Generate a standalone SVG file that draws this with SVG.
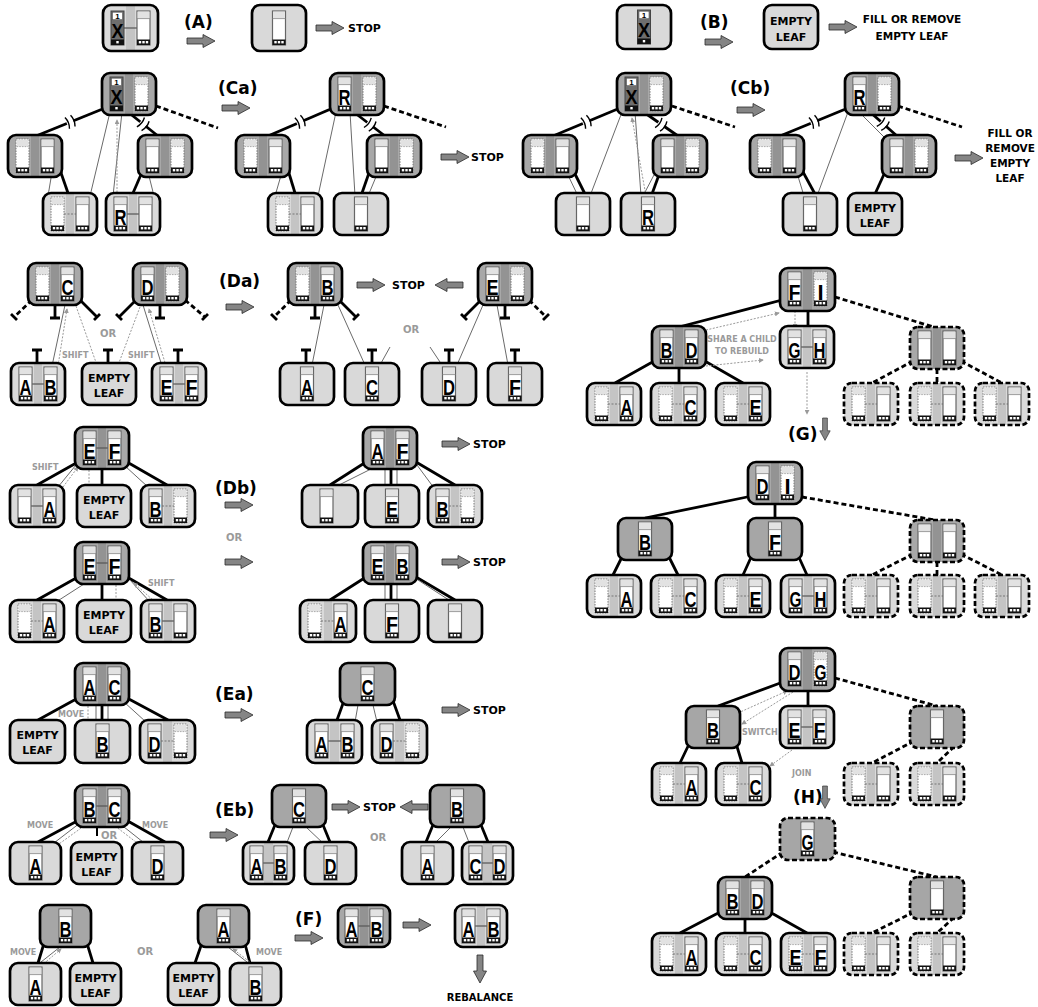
<svg xmlns="http://www.w3.org/2000/svg" xmlns:xlink="http://www.w3.org/1999/xlink" width="1038" height="1007" viewBox="0 0 1038 1007">
<style>
.n{stroke:#000;stroke-width:2.7}
.ni{fill:#a6a6a6}
.ni2{fill:url(#gi)}
.nl{fill:#d9d9d9}
.nl2{fill:url(#gl)}
.dn{stroke-dasharray:5 2.5}
.c{stroke:#555;stroke-width:1.2}
.cd{stroke:#777;stroke-width:1;stroke-dasharray:2 1.5}
.k{font-family:"Liberation Sans",Arial,sans-serif;font-weight:bold;font-size:22px;text-anchor:middle;fill:#000}
.el{font-family:"DejaVu Sans",sans-serif;font-weight:bold;font-size:11px;text-anchor:middle}
.lb{font-family:"DejaVu Sans",sans-serif;font-weight:bold;font-size:17px}
.st{font-family:"DejaVu Sans",sans-serif;font-weight:bold;font-size:11px}
.stc{font-family:"DejaVu Sans",sans-serif;font-weight:bold;font-size:10.5px;text-anchor:middle}
.gr{font-family:"DejaVu Sans",sans-serif;font-weight:bold;font-size:8px;fill:#9a9a9a}
.grc{font-family:"DejaVu Sans",sans-serif;font-weight:bold;font-size:8px;fill:#9a9a9a;text-anchor:middle}
.or{font-family:"DejaVu Sans",sans-serif;font-weight:bold;font-size:10px;fill:#9a9a9a}
.e{stroke:#000;stroke-width:2.8;fill:none}
.ed{stroke-dasharray:5 3}
.p{stroke:#6a6a6a;stroke-width:1;fill:none}
.da{stroke:#999;stroke-width:1;stroke-dasharray:2 1.5;fill:none;marker-end:url(#ah)}
.arr{fill:#858585;stroke:#2a2a2a;stroke-width:0.8}
</style>
<defs>
<linearGradient id="gi" x1="0" y1="0" x2="1" y2="0">
<stop offset="0" stop-color="#a8a8a8"/><stop offset="0.42" stop-color="#a8a8a8"/><stop offset="0.42" stop-color="#939393"/><stop offset="0.58" stop-color="#939393"/><stop offset="0.58" stop-color="#a8a8a8"/><stop offset="1" stop-color="#a8a8a8"/>
</linearGradient>
<linearGradient id="gl" x1="0" y1="0" x2="1" y2="0">
<stop offset="0" stop-color="#dadada"/><stop offset="0.42" stop-color="#dadada"/><stop offset="0.42" stop-color="#c4c4c4"/><stop offset="0.58" stop-color="#c4c4c4"/><stop offset="0.58" stop-color="#dadada"/><stop offset="1" stop-color="#dadada"/>
</linearGradient>
<g id="s">
<rect width="13" height="34" fill="#fff" stroke="#666" stroke-width="1.2"/>
<rect x="0.6" y="0.6" width="11.8" height="7" fill="#e2e2e2"/>
<path d="M0,7.6 H13" stroke="#888" stroke-width="0.8"/>
<rect y="28.5" width="13" height="5.5" fill="#111"/>
<rect x="1.8" y="30" width="2.4" height="2.4" fill="#fff"/><rect x="5.3" y="30" width="2.4" height="2.4" fill="#fff"/><rect x="8.8" y="30" width="2.4" height="2.4" fill="#fff"/>
</g>
<g id="d">
<rect width="13" height="34" fill="#fff" stroke="#777" stroke-width="1" stroke-dasharray="1.5 1.2"/>
<rect x="0.6" y="0.6" width="11.8" height="7" fill="#e2e2e2"/>
<path d="M0.6,7.6 H12.4" stroke="#999" stroke-width="0.8" stroke-dasharray="1.5 1.2"/>
<rect y="28.5" width="13" height="5.5" fill="#111"/>
<rect x="1.8" y="30" width="2.4" height="2.4" fill="#fff"/><rect x="5.3" y="30" width="2.4" height="2.4" fill="#fff"/><rect x="8.8" y="30" width="2.4" height="2.4" fill="#fff"/>
</g>
<g id="x">
<rect width="13" height="34" fill="#6e6e6e" stroke="#444" stroke-width="1"/>
<rect x="1.5" y="1.2" width="10" height="7.5" fill="#fff" stroke="#555" stroke-width="0.6"/>
<text x="6.5" y="7.8" style="font-family:'Liberation Sans',Arial,sans-serif;font-weight:bold;font-size:8px;text-anchor:middle">1</text>
<text x="6.5" y="26.5" class="k" style="font-size:20px" textLength="12" lengthAdjust="spacingAndGlyphs">X</text>
<rect y="28.5" width="13" height="5.5" fill="#111"/>
<rect x="5.3" y="30" width="2.4" height="2.4" fill="#fff"/>
</g>
<path id="ar" class="arr" d="M0,-3 H16 V-6.5 L28,0 L16,6.5 V3 H0 Z"/>
<marker id="ah" viewBox="0 0 6 6" refX="5" refY="3" markerWidth="5" markerHeight="5" orient="auto"><path d="M0,0 L6,3 L0,6 Z" fill="#999"/></marker>
<g id="brk"><rect x="-3.5" y="-4" width="7" height="8" fill="#fff"/><path d="M-3,-6 Q-0.5,0 -3,6 M3,-6 Q5.5,0 3,6" fill="none" stroke="#000" stroke-width="1.4"/></g>
</defs>
<rect width="1038" height="1007" fill="#fff"/>

<g id="connectors">
<path class="e" d="M105,108 L36,136"/><path class="e" d="M128,112 L158,136"/><path class="e ed" d="M156,106 L218,128"/>
<path class="e" d="M60,170 L68,193"/><path class="e" d="M143,170 L133,193"/>
<use href="#brk" transform="translate(70,122) rotate(-22)"/><use href="#brk" transform="translate(143,124) rotate(39)"/>
<path class="p" d="M52,172 L48,196 M110,112 L90,196 M122,112 L113,196 M148,172 L154,196"/>
<path class="da" d="M117,196 L117,120"/>
<path class="e" d="M333,108 L268,136"/><path class="e" d="M355,113 L385,136"/><path class="e ed" d="M384,106 L446,127"/>
<path class="e" d="M288,170 L295,193"/><path class="e" d="M370,170 L362,193"/>
<use href="#brk" transform="translate(300,122) rotate(-23)"/><use href="#brk" transform="translate(370,124.5) rotate(37)"/>
<path class="p" d="M282,172 L275,196 M336,112 L318,196 M350,112 L355,196 M378,172 L368,196"/>
<path class="e" d="M620,108 L553,136"/><path class="e" d="M645,113 L678,136"/><path class="e ed" d="M672,106 L735,127"/>
<path class="e" d="M574,172 L585,194"/><path class="e" d="M660,172 L652,194"/>
<use href="#brk" transform="translate(586,122) rotate(-23)"/><use href="#brk" transform="translate(661,124.5) rotate(35)"/>
<path class="p" d="M567,173 L578,196 M655,173 L643,196 M622,112 L590,196 M635,112 L641,196"/>
<path class="da" d="M646,196 L632,118"/>
<path class="e" d="M848,108 L780,136"/><path class="e" d="M870,112 L897,136"/><path class="e ed" d="M898,106 L962,127"/>
<path class="e" d="M803,172 L815,194"/><path class="e" d="M885,172 L875,194"/>
<use href="#brk" transform="translate(814,122) rotate(-22)"/><use href="#brk" transform="translate(883,124) rotate(42)"/>
<path class="p" d="M797,173 L804,196 M848,112 L817,196 M862,115 L885,138"/>
<path class="e ed" d="M32,300 L14,317"/><path class="e" d="M11,314 L17,320 M55,305 V318 M50,318 H60 M80,300 L97,317 M94,320 L100,314"/>
<path class="e" d="M136,300 L119,317 M116,314 L122,320 M160,305 V318 M155,318 H165 M202,320 L208,314"/><path class="e ed" d="M185,300 L205,317"/>
<path class="e" d="M37,363 V350 M32,350 H42 M108,363 V350 M103,350 H113 M178,363 V350 M173,350 H183"/>
<path class="p" d="M65,305 L52,366 M143,305 L162,366"/>
<path class="da" d="M58,366 L67,309"/><path class="da" d="M76,306 L98,368"/><path class="da" d="M166,366 L149,309"/><path class="da" d="M140,307 L117,368"/>
<path class="e ed" d="M291,300 L274,317"/><path class="e" d="M271,314 L277,320 M315,305 V318 M310,318 H320 M339,300 L356,317 M353,320 L359,314"/>
<path class="e" d="M481,300 L464,317 M461,314 L467,320 M505,305 V318 M500,318 H510 M543,320 L549,314"/><path class="e ed" d="M529,300 L546,317"/>
<path class="e" d="M306,363 V350 M301,350 H311 M372,363 V350 M367,350 H377 M449,363 V350 M444,350 H454 M515,363 V350 M510,350 H520"/>
<path class="p" d="M324,305 L312,365 M338,305 L365,365 M380,365 L390,347 M430,347 L442,365 M483,305 L457,365 M497,305 L508,365"/>
<path class="e" d="M78,462 L37,485 M102,469 V485 M127,462 L167,485"/>
<path class="p" d="M125,466 L148,487 M58,487 L76,465"/>
<path class="da" d="M63,487 L78,467"/><path class="da" d="M89,470 L89,492"/>
<path class="e" d="M366,462 L330,485 M391,469 V485 M416,462 L455,485"/>
<path class="p" d="M385,469 V487 M397,469 V487 M373,468 L333,488 M417,465 L434,488"/>
<path class="e" d="M78,577 L37,600 M102,584 V600 M127,577 L167,600"/>
<path class="p" d="M84,584 L56,602 M150,602 L130,580"/>
<path class="da" d="M155,602 L134,583"/><path class="da" d="M116,585 L116,605"/>
<path class="e" d="M366,577 L330,600 M391,584 V600 M416,577 L455,600"/>
<path class="p" d="M385,584 V602 M397,584 V602 M418,580 L452,602"/>
<path class="e" d="M78,698 L38,720 M102,705 V720 M127,698 L168,720"/>
<path class="p" d="M96,705 V722 M108,705 V722 M124,702 L146,722"/>
<path class="da" d="M88,706 L88,728"/>
<path class="e" d="M345,698 L337,720 M392,698 L400,720"/>
<path class="p" d="M358,705 L355,722 M373,705 L377,722"/>
<path class="e" d="M79,820 L38,842 M126,820 L165,842"/><path class="e" style="stroke-width:2" d="M97,827 V836"/>
<path class="p" d="M80,823 L50,846 M119,823 L148,846"/>
<path class="da" d="M84,826 L52,849"/><path class="da" d="M115,826 L145,849"/>
<path class="e" d="M277,820 L268,842 M321,820 L330,842"/>
<path class="p" d="M293,827 L286,845 M306,827 L325,845"/>
<path class="e" d="M435,820 L426,842 M479,820 L488,842"/>
<path class="p" d="M451,827 L433,845 M463,827 L470,845"/>
<path class="e" d="M45,940 L38,963 M86,940 L93,963"/>
<path class="p" d="M60,947 L36,966"/><path class="da" d="M41,966 L61,949"/>
<path class="e" d="M203,940 L195,963 M244,940 L250,963"/>
<path class="p" d="M228,947 L252,966"/><path class="da" d="M255,966 L233,949"/>
<path class="e" d="M782,300 L679,327 M808,310 V326"/><path class="e ed" d="M835,297 L937,328"/>
<path class="e" d="M656,360 L615,383 M679,368 V383 M703,360 L743,383"/>
<path class="e ed" d="M913,361 L872,383 M937,369 V383 M961,361 L1002,383"/>
<path class="da" d="M706,330 L779,313"/><path class="da" d="M706,366 L763,360"/><path class="da" d="M795,311 V328"/><path class="da" d="M807,372 V414"/>
<path class="e" d="M752,496 L645,518 M775,504 V518"/><path class="e ed" d="M802,497 L935,520"/>
<path class="e" d="M624,553 L613,575 M667,553 L678,575 M753,553 L743,575 M797,553 L807,575"/>
<path class="e ed" d="M913,554 L872,575 M937,562 V575 M961,554 L1002,575"/>
<path class="e" d="M783,682 L718,706 M808,690 V706"/><path class="e ed" d="M835,678 L937,706"/>
<path class="e" d="M691,740 L680,763 M735,740 L742,763"/>
<path class="e ed" d="M914,741 L872,763 M960,741 L937,763"/>
<path class="da" d="M738,713 L787,691"/><path class="da" d="M793,692 L742,724"/><path class="da" d="M792,750 L770,766"/>
<path class="e ed" d="M783,852 L745,877 M833,852 L937,877"/>
<path class="e" d="M722,911 L680,933 M745,919 V933 M768,911 L807,933"/>
<path class="e ed" d="M914,912 L872,933 M960,912 L937,933"/>
</g>

<g id="labels">
<text class="lb" x="184" y="28">(A)</text><use href="#ar" x="187" y="41"/>
<use href="#ar" x="316" y="28"/><text class="st" x="348" y="32">STOP</text>
<text class="lb" x="700" y="28">(B)</text><use href="#ar" x="705" y="42"/>
<use href="#ar" x="829" y="27"/><text class="stc" x="912" y="23">FILL OR REMOVE</text><text class="stc" x="912" y="40">EMPTY LEAF</text>
<text class="lb" x="218" y="94">(Ca)</text><use href="#ar" x="222" y="108"/>
<use href="#ar" x="441" y="157"/><text class="st" x="471" y="161">STOP</text>
<text class="lb" x="730" y="94">(Cb)</text><use href="#ar" x="737" y="110"/>
<use href="#ar" x="955" y="158"/>
<text class="stc" x="1010" y="137">FILL OR</text><text class="stc" x="1010" y="152">REMOVE</text><text class="stc" x="1010" y="167">EMPTY</text><text class="stc" x="1010" y="182">LEAF</text>
<text class="lb" x="219" y="287">(Da)</text><use href="#ar" x="226" y="307"/>
<text class="gr" x="62" y="358">SHIFT</text><text class="gr" x="128" y="358">SHIFT</text><text class="or" x="100" y="337">OR</text>
<use href="#ar" x="357" y="285"/><text class="st" x="392" y="289">STOP</text><use href="#ar" transform="translate(463,285) scale(-1,1)"/>
<text class="or" x="403" y="333">OR</text>
<text class="lb" x="215" y="494">(Db)</text><use href="#ar" x="225" y="505"/>
<text class="or" x="226" y="541">OR</text><use href="#ar" x="225" y="562"/>
<text class="gr" x="32" y="470">SHIFT</text><text class="gr" x="148" y="586">SHIFT</text>
<use href="#ar" x="442" y="444"/><text class="st" x="473" y="448">STOP</text>
<use href="#ar" x="442" y="562"/><text class="st" x="473" y="566">STOP</text>
<text class="lb" x="215" y="700">(Ea)</text><use href="#ar" x="225" y="715"/>
<text class="gr" x="58" y="717">MOVE</text>
<use href="#ar" x="442" y="710"/><text class="st" x="473" y="714">STOP</text>
<text class="lb" x="215" y="816">(Eb)</text><use href="#ar" x="210" y="835"/>
<text class="gr" x="27" y="828">MOVE</text><text class="gr" x="142" y="828">MOVE</text><text class="or" x="101" y="839">OR</text>
<use href="#ar" x="332" y="807"/><text class="st" x="363" y="811">STOP</text><use href="#ar" transform="translate(428,807) scale(-1,1)"/>
<text class="or" x="370" y="841">OR</text>
<text class="gr" x="10" y="955">MOVE</text><text class="or" x="137" y="955">OR</text><text class="gr" x="256" y="955">MOVE</text>
<text class="lb" x="295" y="925">(F)</text><use href="#ar" x="295" y="938"/>
<use href="#ar" x="403" y="925"/>
<use href="#ar" transform="translate(480,955) rotate(90)"/>
<text class="stc" x="480" y="1001" style="font-size:10px">REBALANCE</text>
<text class="grc" x="742" y="342">SHARE A CHILD</text><text class="grc" x="742" y="354">TO REBUILD</text>
<text class="lb" x="788" y="440">(G)</text><use href="#ar" transform="translate(825,418) rotate(90) scale(0.8)"/>
<text class="gr" x="742" y="735">SWITCH</text><text class="gr" x="792" y="776">JOIN</text>
<text class="lb" x="793" y="803">(H)</text><use href="#ar" transform="translate(825,786) rotate(90) scale(0.8)"/>
</g>

<g id="nA1" transform="translate(103,5)"><rect class="n nl2" width="55" height="46" rx="8"/><line class="c" x1="21" y1="23" x2="34" y2="23"/><use href="#x" x="8" y="6"/><use href="#s" x="34" y="6"/></g>
<g id="nA2" transform="translate(252,5)"><rect class="n nl" width="54" height="46" rx="8"/><use href="#s" x="20.5" y="6"/></g>
<g id="nB1" transform="translate(617,5)"><rect class="n nl" width="54" height="44" rx="8"/><use href="#x" x="20.5" y="5"/></g>
<g id="nB2" transform="translate(764,5)"><rect class="n nl" width="54" height="44" rx="8"/><text class="el" x="27" y="20">EMPTY</text><text class="el" x="27" y="36">LEAF</text></g>

<g id="ca-root" transform="translate(102,73)"><rect class="n ni2" width="54" height="42" rx="8"/><use href="#x" x="8" y="4"/><use href="#d" x="33" y="4"/></g>
<g id="ca-l" transform="translate(8,135)"><rect class="n ni2" width="54" height="42" rx="8"/><use href="#d" x="8" y="4"/><use href="#s" x="33" y="4"/></g>
<g id="ca-r" transform="translate(138,135)"><rect class="n ni2" width="54" height="42" rx="8"/><use href="#s" x="8" y="4"/><use href="#d" x="33" y="4"/></g>
<g id="ca-b1" transform="translate(43,193)"><rect class="n nl2" width="54" height="42" rx="8"/><line class="cd" x1="21" y1="21" x2="33" y2="21"/><use href="#d" x="8" y="4"/><use href="#s" x="33" y="4"/></g>
<g id="ca-b2" transform="translate(106,193)"><rect class="n nl2" width="54" height="42" rx="8"/><line class="c" x1="21" y1="21" x2="33" y2="21"/><use href="#s" x="8" y="4"/><use href="#s" x="33" y="4"/><text class="k" x="14.5" y="32" textLength="12" lengthAdjust="spacingAndGlyphs">R</text></g>
<g id="car-root" transform="translate(330,73)"><rect class="n ni2" width="54" height="42" rx="8"/><use href="#s" x="8" y="4"/><use href="#d" x="33" y="4"/><text class="k" x="14.5" y="32" textLength="12" lengthAdjust="spacingAndGlyphs">R</text></g>
<g id="car-l" transform="translate(236,135)"><rect class="n ni2" width="54" height="42" rx="8"/><use href="#d" x="8" y="4"/><use href="#s" x="33" y="4"/></g>
<g id="car-r" transform="translate(367,135)"><rect class="n ni2" width="54" height="42" rx="8"/><use href="#s" x="8" y="4"/><use href="#d" x="33" y="4"/></g>
<g id="car-b1" transform="translate(268,193)"><rect class="n nl2" width="54" height="42" rx="8"/><line class="cd" x1="21" y1="21" x2="33" y2="21"/><use href="#d" x="8" y="4"/><use href="#s" x="33" y="4"/></g>
<g id="car-b2" transform="translate(334,193)"><rect class="n nl" width="54" height="42" rx="8"/><use href="#s" x="20.5" y="4"/></g>
<g id="cb-root" transform="translate(617,73)"><rect class="n ni2" width="54" height="42" rx="8"/><use href="#x" x="8" y="4"/><use href="#d" x="33" y="4"/></g>
<g id="cb-l" transform="translate(523,135)"><rect class="n ni2" width="54" height="42" rx="8"/><use href="#d" x="8" y="4"/><use href="#s" x="33" y="4"/></g>
<g id="cb-r" transform="translate(653,135)"><rect class="n ni2" width="54" height="42" rx="8"/><use href="#s" x="8" y="4"/><use href="#d" x="33" y="4"/></g>
<g id="cb-b1" transform="translate(556,193)"><rect class="n nl" width="54" height="42" rx="8"/><use href="#s" x="20.5" y="4"/></g>
<g id="cb-b2" transform="translate(621,193)"><rect class="n nl" width="54" height="42" rx="8"/><use href="#s" x="20.5" y="4"/><text class="k" x="27" y="32" textLength="12" lengthAdjust="spacingAndGlyphs">R</text></g>
<g id="cbr-root" transform="translate(845,73)"><rect class="n ni2" width="54" height="42" rx="8"/><use href="#s" x="8" y="4"/><use href="#d" x="33" y="4"/><text class="k" x="14.5" y="32" textLength="12" lengthAdjust="spacingAndGlyphs">R</text></g>
<g id="cbr-l" transform="translate(750,135)"><rect class="n ni2" width="54" height="42" rx="8"/><use href="#d" x="8" y="4"/><use href="#s" x="33" y="4"/></g>
<g id="cbr-r" transform="translate(882,135)"><rect class="n ni2" width="54" height="42" rx="8"/><use href="#s" x="8" y="4"/><use href="#d" x="33" y="4"/></g>
<g id="cbr-b1" transform="translate(783,193)"><rect class="n nl" width="54" height="42" rx="8"/><use href="#s" x="20.5" y="4"/></g>
<g id="cbr-b2" transform="translate(848,193)"><rect class="n nl" width="54" height="42" rx="8"/><text class="el" x="27" y="19">EMPTY</text><text class="el" x="27" y="34">LEAF</text></g>

<g id="da-p1" transform="translate(28,263)"><rect class="n ni2" width="54" height="42" rx="8"/><use href="#d" x="8" y="4"/><use href="#s" x="33" y="4"/><text class="k" x="39.5" y="32" textLength="12" lengthAdjust="spacingAndGlyphs">C</text></g>
<g id="da-p2" transform="translate(133,263)"><rect class="n ni2" width="54" height="42" rx="8"/><use href="#s" x="8" y="4"/><use href="#d" x="33" y="4"/><text class="k" x="14.5" y="32" textLength="12" lengthAdjust="spacingAndGlyphs">D</text></g>
<g id="da-l1" transform="translate(11,363)"><rect class="n nl2" width="54" height="42" rx="8"/><line class="c" x1="21" y1="21" x2="33" y2="21"/><use href="#s" x="8" y="4"/><use href="#s" x="33" y="4"/><text class="k" x="14.5" y="32" textLength="12" lengthAdjust="spacingAndGlyphs">A</text><text class="k" x="39.5" y="32" textLength="12" lengthAdjust="spacingAndGlyphs">B</text></g>
<g id="da-l2" transform="translate(82,363)"><rect class="n nl" width="54" height="42" rx="8"/><text class="el" x="27" y="19">EMPTY</text><text class="el" x="27" y="34">LEAF</text></g>
<g id="da-l3" transform="translate(152,363)"><rect class="n nl2" width="54" height="42" rx="8"/><line class="c" x1="21" y1="21" x2="33" y2="21"/><use href="#s" x="8" y="4"/><use href="#s" x="33" y="4"/><text class="k" x="14.5" y="32" textLength="12" lengthAdjust="spacingAndGlyphs">E</text><text class="k" x="39.5" y="32" textLength="12" lengthAdjust="spacingAndGlyphs">F</text></g>
<g id="dar-p1" transform="translate(288,263)"><rect class="n ni2" width="54" height="42" rx="8"/><use href="#d" x="8" y="4"/><use href="#s" x="33" y="4"/><text class="k" x="39.5" y="32" textLength="12" lengthAdjust="spacingAndGlyphs">B</text></g>
<g id="dar-p2" transform="translate(478,263)"><rect class="n ni2" width="54" height="42" rx="8"/><use href="#s" x="8" y="4"/><use href="#d" x="33" y="4"/><text class="k" x="14.5" y="32" textLength="12" lengthAdjust="spacingAndGlyphs">E</text></g>
<g id="dar-l1" transform="translate(280,363)"><rect class="n nl" width="54" height="42" rx="8"/><use href="#s" x="20.5" y="4"/><text class="k" x="27" y="32" textLength="12" lengthAdjust="spacingAndGlyphs">A</text></g>
<g id="dar-l2" transform="translate(345,363)"><rect class="n nl" width="54" height="42" rx="8"/><use href="#s" x="20.5" y="4"/><text class="k" x="27" y="32" textLength="12" lengthAdjust="spacingAndGlyphs">C</text></g>
<g id="dar-l3" transform="translate(422,363)"><rect class="n nl" width="54" height="42" rx="8"/><use href="#s" x="20.5" y="4"/><text class="k" x="27" y="32" textLength="12" lengthAdjust="spacingAndGlyphs">D</text></g>
<g id="dar-l4" transform="translate(488,363)"><rect class="n nl" width="54" height="42" rx="8"/><use href="#s" x="20.5" y="4"/><text class="k" x="27" y="32" textLength="12" lengthAdjust="spacingAndGlyphs">F</text></g>

<g id="db1-p" transform="translate(75,427)"><rect class="n ni2" width="54" height="42" rx="8"/><line class="c" x1="21" y1="21" x2="33" y2="21"/><use href="#s" x="8" y="4"/><use href="#s" x="33" y="4"/><text class="k" x="14.5" y="32" textLength="12" lengthAdjust="spacingAndGlyphs">E</text><text class="k" x="39.5" y="32" textLength="12" lengthAdjust="spacingAndGlyphs">F</text></g>
<g id="db1-l1" transform="translate(10,485)"><rect class="n nl2" width="54" height="42" rx="8"/><line class="c" x1="21" y1="21" x2="33" y2="21"/><use href="#s" x="8" y="4"/><use href="#s" x="33" y="4"/><text class="k" x="39.5" y="32" textLength="12" lengthAdjust="spacingAndGlyphs">A</text></g>
<g id="db1-l2" transform="translate(77,485)"><rect class="n nl" width="54" height="42" rx="8"/><text class="el" x="27" y="19">EMPTY</text><text class="el" x="27" y="34">LEAF</text></g>
<g id="db1-l3" transform="translate(141,485)"><rect class="n nl2" width="54" height="42" rx="8"/><line class="cd" x1="21" y1="21" x2="33" y2="21"/><use href="#s" x="8" y="4"/><use href="#d" x="33" y="4"/><text class="k" x="14.5" y="32" textLength="12" lengthAdjust="spacingAndGlyphs">B</text></g>
<g id="db1r-p" transform="translate(363,427)"><rect class="n ni2" width="54" height="42" rx="8"/><use href="#s" x="8" y="4"/><use href="#s" x="33" y="4"/><text class="k" x="14.5" y="32" textLength="12" lengthAdjust="spacingAndGlyphs">A</text><text class="k" x="39.5" y="32" textLength="12" lengthAdjust="spacingAndGlyphs">F</text></g>
<g id="db1r-l1" transform="translate(302,485)"><rect class="n nl" width="56" height="42" rx="8"/><use href="#s" x="18" y="4"/></g>
<g id="db1r-l2" transform="translate(365,485)"><rect class="n nl" width="54" height="42" rx="8"/><use href="#s" x="20.5" y="4"/><text class="k" x="27" y="32" textLength="12" lengthAdjust="spacingAndGlyphs">E</text></g>
<g id="db1r-l3" transform="translate(428,485)"><rect class="n nl2" width="54" height="42" rx="8"/><line class="cd" x1="21" y1="21" x2="33" y2="21"/><use href="#s" x="8" y="4"/><use href="#d" x="33" y="4"/><text class="k" x="14.5" y="32" textLength="12" lengthAdjust="spacingAndGlyphs">B</text></g>
<g id="db2-p" transform="translate(75,542)"><rect class="n ni2" width="54" height="42" rx="8"/><line class="c" x1="21" y1="21" x2="33" y2="21"/><use href="#s" x="8" y="4"/><use href="#s" x="33" y="4"/><text class="k" x="14.5" y="32" textLength="12" lengthAdjust="spacingAndGlyphs">E</text><text class="k" x="39.5" y="32" textLength="12" lengthAdjust="spacingAndGlyphs">F</text></g>
<g id="db2-l1" transform="translate(10,600)"><rect class="n nl2" width="54" height="42" rx="8"/><line class="cd" x1="21" y1="21" x2="33" y2="21"/><use href="#d" x="8" y="4"/><use href="#s" x="33" y="4"/><text class="k" x="39.5" y="32" textLength="12" lengthAdjust="spacingAndGlyphs">A</text></g>
<g id="db2-l2" transform="translate(77,600)"><rect class="n nl" width="54" height="42" rx="8"/><text class="el" x="27" y="19">EMPTY</text><text class="el" x="27" y="34">LEAF</text></g>
<g id="db2-l3" transform="translate(141,600)"><rect class="n nl2" width="54" height="42" rx="8"/><line class="c" x1="21" y1="21" x2="33" y2="21"/><use href="#s" x="8" y="4"/><use href="#s" x="33" y="4"/><text class="k" x="14.5" y="32" textLength="12" lengthAdjust="spacingAndGlyphs">B</text></g>
<g id="db2r-p" transform="translate(363,542)"><rect class="n ni2" width="54" height="42" rx="8"/><use href="#s" x="8" y="4"/><use href="#s" x="33" y="4"/><text class="k" x="14.5" y="32" textLength="12" lengthAdjust="spacingAndGlyphs">E</text><text class="k" x="39.5" y="32" textLength="12" lengthAdjust="spacingAndGlyphs">B</text></g>
<g id="db2r-l1" transform="translate(300,600)"><rect class="n nl2" width="56" height="42" rx="8"/><line class="cd" x1="21" y1="21" x2="34" y2="21"/><use href="#d" x="8" y="4"/><use href="#s" x="34" y="4"/><text class="k" x="40.5" y="32" textLength="12" lengthAdjust="spacingAndGlyphs">A</text></g>
<g id="db2r-l2" transform="translate(365,600)"><rect class="n nl" width="54" height="42" rx="8"/><use href="#s" x="20.5" y="4"/><text class="k" x="27" y="32" textLength="12" lengthAdjust="spacingAndGlyphs">F</text></g>
<g id="db2r-l3" transform="translate(428,600)"><rect class="n nl" width="54" height="42" rx="8"/><use href="#s" x="20.5" y="4"/></g>

<g id="ea-p" transform="translate(75,663)"><rect class="n ni2" width="54" height="42" rx="8"/><use href="#s" x="8" y="4"/><use href="#s" x="33" y="4"/><text class="k" x="14.5" y="32" textLength="12" lengthAdjust="spacingAndGlyphs">A</text><text class="k" x="39.5" y="32" textLength="12" lengthAdjust="spacingAndGlyphs">C</text></g>
<g id="ea-l1" transform="translate(10,720)"><rect class="n nl" width="55" height="43" rx="8"/><text class="el" x="27.5" y="19">EMPTY</text><text class="el" x="27.5" y="34">LEAF</text></g>
<g id="ea-l2" transform="translate(75,720)"><rect class="n nl" width="55" height="43" rx="8"/><use href="#s" x="21" y="4"/><text class="k" x="27.5" y="32" textLength="12" lengthAdjust="spacingAndGlyphs">B</text></g>
<g id="ea-l3" transform="translate(140,720)"><rect class="n nl2" width="55" height="43" rx="8"/><line class="cd" x1="21" y1="21" x2="34" y2="21"/><use href="#s" x="8" y="4"/><use href="#d" x="34" y="4"/><text class="k" x="14.5" y="32" textLength="12" lengthAdjust="spacingAndGlyphs">D</text></g>
<g id="ear-p" transform="translate(340,663)"><rect class="n ni" width="55" height="42" rx="8"/><use href="#s" x="21" y="4"/><text class="k" x="27.5" y="32" textLength="12" lengthAdjust="spacingAndGlyphs">C</text></g>
<g id="ear-l1" transform="translate(307,720)"><rect class="n nl2" width="55" height="43" rx="8"/><line class="c" x1="21" y1="21" x2="34" y2="21"/><use href="#s" x="8" y="4"/><use href="#s" x="34" y="4"/><text class="k" x="14.5" y="32" textLength="12" lengthAdjust="spacingAndGlyphs">A</text><text class="k" x="40.5" y="32" textLength="12" lengthAdjust="spacingAndGlyphs">B</text></g>
<g id="ear-l2" transform="translate(372,720)"><rect class="n nl2" width="55" height="43" rx="8"/><line class="cd" x1="21" y1="21" x2="34" y2="21"/><use href="#s" x="8" y="4"/><use href="#d" x="34" y="4"/><text class="k" x="14.5" y="32" textLength="12" lengthAdjust="spacingAndGlyphs">D</text></g>

<g id="eb-p" transform="translate(75,785)"><rect class="n ni2" width="54" height="42" rx="8"/><line class="c" x1="21" y1="21" x2="33" y2="21"/><use href="#s" x="8" y="4"/><use href="#s" x="33" y="4"/><text class="k" x="14.5" y="32" textLength="12" lengthAdjust="spacingAndGlyphs">B</text><text class="k" x="39.5" y="32" textLength="12" lengthAdjust="spacingAndGlyphs">C</text></g>
<g id="eb-l1" transform="translate(10,842)"><rect class="n nl" width="51" height="42" rx="8"/><use href="#s" x="19" y="4"/><text class="k" x="25.5" y="32" textLength="12" lengthAdjust="spacingAndGlyphs">A</text></g>
<g id="eb-l2" transform="translate(71,842)"><rect class="n nl" width="51" height="42" rx="8"/><text class="el" x="25.5" y="19">EMPTY</text><text class="el" x="25.5" y="34">LEAF</text></g>
<g id="eb-l3" transform="translate(132,842)"><rect class="n nl" width="51" height="42" rx="8"/><use href="#s" x="19" y="4"/><text class="k" x="25.5" y="32" textLength="12" lengthAdjust="spacingAndGlyphs">D</text></g>
<g id="ebr1-p" transform="translate(272,785)"><rect class="n ni" width="54" height="42" rx="8"/><use href="#s" x="20.5" y="4"/><text class="k" x="27" y="32" textLength="12" lengthAdjust="spacingAndGlyphs">C</text></g>
<g id="ebr1-l1" transform="translate(243,842)"><rect class="n nl2" width="51" height="42" rx="8"/><line class="c" x1="20" y1="21" x2="31" y2="21"/><use href="#s" x="7" y="4"/><use href="#s" x="31" y="4"/><text class="k" x="13.5" y="32" textLength="12" lengthAdjust="spacingAndGlyphs">A</text><text class="k" x="37.5" y="32" textLength="12" lengthAdjust="spacingAndGlyphs">B</text></g>
<g id="ebr1-l2" transform="translate(305,842)"><rect class="n nl" width="51" height="42" rx="8"/><use href="#s" x="19" y="4"/><text class="k" x="25.5" y="32" textLength="12" lengthAdjust="spacingAndGlyphs">D</text></g>
<g id="ebr2-p" transform="translate(430,785)"><rect class="n ni" width="54" height="42" rx="8"/><use href="#s" x="20.5" y="4"/><text class="k" x="27" y="32" textLength="12" lengthAdjust="spacingAndGlyphs">B</text></g>
<g id="ebr2-l1" transform="translate(402,842)"><rect class="n nl" width="51" height="42" rx="8"/><use href="#s" x="19" y="4"/><text class="k" x="25.5" y="32" textLength="12" lengthAdjust="spacingAndGlyphs">A</text></g>
<g id="ebr2-l2" transform="translate(462,842)"><rect class="n nl2" width="51" height="42" rx="8"/><line class="c" x1="20" y1="21" x2="31" y2="21"/><use href="#s" x="7" y="4"/><use href="#s" x="31" y="4"/><text class="k" x="13.5" y="32" textLength="12" lengthAdjust="spacingAndGlyphs">C</text><text class="k" x="37.5" y="32" textLength="12" lengthAdjust="spacingAndGlyphs">D</text></g>

<g id="f1-p" transform="translate(40,905)"><rect class="n ni" width="51" height="42" rx="8"/><use href="#s" x="19" y="4"/><text class="k" x="25.5" y="32" textLength="12" lengthAdjust="spacingAndGlyphs">B</text></g>
<g id="f1-l1" transform="translate(10,963)"><rect class="n nl" width="51" height="42" rx="8"/><use href="#s" x="19" y="4"/><text class="k" x="25.5" y="32" textLength="12" lengthAdjust="spacingAndGlyphs">A</text></g>
<g id="f1-l2" transform="translate(70,963)"><rect class="n nl" width="51" height="42" rx="8"/><text class="el" x="25.5" y="19">EMPTY</text><text class="el" x="25.5" y="34">LEAF</text></g>
<g id="f2-p" transform="translate(198,905)"><rect class="n ni" width="51" height="42" rx="8"/><use href="#s" x="19" y="4"/><text class="k" x="25.5" y="32" textLength="12" lengthAdjust="spacingAndGlyphs">A</text></g>
<g id="f2-l1" transform="translate(168,963)"><rect class="n nl" width="51" height="42" rx="8"/><text class="el" x="25.5" y="19">EMPTY</text><text class="el" x="25.5" y="34">LEAF</text></g>
<g id="f2-l2" transform="translate(230,963)"><rect class="n nl" width="51" height="42" rx="8"/><use href="#s" x="19" y="4"/><text class="k" x="25.5" y="32" textLength="12" lengthAdjust="spacingAndGlyphs">B</text></g>
<g id="f3" transform="translate(338,905)"><rect class="n ni2" width="52" height="42" rx="8"/><line class="c" x1="20" y1="21" x2="32" y2="21"/><use href="#s" x="7" y="4"/><use href="#s" x="32" y="4"/><text class="k" x="13.5" y="32" textLength="12" lengthAdjust="spacingAndGlyphs">A</text><text class="k" x="38.5" y="32" textLength="12" lengthAdjust="spacingAndGlyphs">B</text></g>
<g id="f4" transform="translate(455,905)"><rect class="n nl2" width="52" height="42" rx="8"/><line class="c" x1="20" y1="21" x2="32" y2="21"/><use href="#s" x="7" y="4"/><use href="#s" x="32" y="4"/><text class="k" x="13.5" y="32" textLength="12" lengthAdjust="spacingAndGlyphs">A</text><text class="k" x="38.5" y="32" textLength="12" lengthAdjust="spacingAndGlyphs">B</text></g>

<g id="g-root" transform="translate(780,268)"><rect class="n ni2" width="55" height="43" rx="8"/><use href="#s" x="8" y="4"/><use href="#d" x="34" y="4"/><text class="k" x="14.5" y="32" textLength="12" lengthAdjust="spacingAndGlyphs">F</text><text class="k" x="40.5" y="32">I</text></g>
<g id="g-bd" transform="translate(652,326)"><rect class="n ni2" width="54" height="42" rx="8"/><use href="#s" x="8" y="4"/><use href="#s" x="33" y="4"/><text class="k" x="14.5" y="32" textLength="12" lengthAdjust="spacingAndGlyphs">B</text><text class="k" x="39.5" y="32" textLength="12" lengthAdjust="spacingAndGlyphs">D</text></g>
<g id="g-gh" transform="translate(780,326)"><rect class="n nl2" width="54" height="42" rx="8"/><line class="c" x1="21" y1="21" x2="33" y2="21"/><use href="#s" x="8" y="4"/><use href="#s" x="33" y="4"/><text class="k" x="14.5" y="32" textLength="12" lengthAdjust="spacingAndGlyphs">G</text><text class="k" x="39.5" y="32" textLength="12" lengthAdjust="spacingAndGlyphs">H</text></g>
<g id="g-dn" transform="translate(910,327)"><rect class="n ni2 dn" width="54" height="42" rx="8"/><use href="#s" x="8" y="4"/><use href="#s" x="33" y="4"/></g>
<g id="g-a" transform="translate(587,383)"><rect class="n nl2" width="54" height="42" rx="8"/><line class="cd" x1="21" y1="21" x2="33" y2="21"/><use href="#d" x="8" y="4"/><use href="#s" x="33" y="4"/><text class="k" x="39.5" y="32" textLength="12" lengthAdjust="spacingAndGlyphs">A</text></g>
<g id="g-c" transform="translate(651,383)"><rect class="n nl2" width="54" height="42" rx="8"/><line class="cd" x1="21" y1="21" x2="33" y2="21"/><use href="#d" x="8" y="4"/><use href="#s" x="33" y="4"/><text class="k" x="39.5" y="32" textLength="12" lengthAdjust="spacingAndGlyphs">C</text></g>
<g id="g-e" transform="translate(716,383)"><rect class="n nl2" width="54" height="42" rx="8"/><line class="cd" x1="21" y1="21" x2="33" y2="21"/><use href="#d" x="8" y="4"/><use href="#s" x="33" y="4"/><text class="k" x="39.5" y="32" textLength="12" lengthAdjust="spacingAndGlyphs">E</text></g>
<g id="g-dl1" transform="translate(844,383)"><rect class="n nl2 dn" width="54" height="42" rx="8"/><line class="cd" x1="21" y1="21" x2="33" y2="21"/><use href="#d" x="8" y="4"/><use href="#s" x="33" y="4"/></g>
<g id="g-dl2" transform="translate(910,383)"><rect class="n nl2 dn" width="54" height="42" rx="8"/><line class="cd" x1="21" y1="21" x2="33" y2="21"/><use href="#d" x="8" y="4"/><use href="#s" x="33" y="4"/></g>
<g id="g-dl3" transform="translate(975,383)"><rect class="n nl2 dn" width="54" height="42" rx="8"/><line class="cd" x1="21" y1="21" x2="33" y2="21"/><use href="#d" x="8" y="4"/><use href="#s" x="33" y="4"/></g>

<g id="gr-root" transform="translate(748,462)"><rect class="n ni2" width="54" height="42" rx="8"/><use href="#s" x="8" y="4"/><use href="#d" x="33" y="4"/><text class="k" x="14.5" y="32" textLength="12" lengthAdjust="spacingAndGlyphs">D</text><text class="k" x="39.5" y="32">I</text></g>
<g id="gr-b" transform="translate(618,518)"><rect class="n ni" width="54" height="42" rx="8"/><use href="#s" x="20.5" y="4"/><text class="k" x="27" y="32" textLength="12" lengthAdjust="spacingAndGlyphs">B</text></g>
<g id="gr-f" transform="translate(748,518)"><rect class="n ni" width="54" height="42" rx="8"/><use href="#s" x="20.5" y="4"/><text class="k" x="27" y="32" textLength="12" lengthAdjust="spacingAndGlyphs">F</text></g>
<g id="gr-dn" transform="translate(910,520)"><rect class="n ni2 dn" width="54" height="42" rx="8"/><use href="#s" x="8" y="4"/><use href="#s" x="33" y="4"/></g>
<g id="gr-a" transform="translate(587,575)"><rect class="n nl2" width="54" height="42" rx="8"/><line class="cd" x1="21" y1="21" x2="33" y2="21"/><use href="#d" x="8" y="4"/><use href="#s" x="33" y="4"/><text class="k" x="39.5" y="32" textLength="12" lengthAdjust="spacingAndGlyphs">A</text></g>
<g id="gr-c" transform="translate(651,575)"><rect class="n nl2" width="54" height="42" rx="8"/><line class="cd" x1="21" y1="21" x2="33" y2="21"/><use href="#d" x="8" y="4"/><use href="#s" x="33" y="4"/><text class="k" x="39.5" y="32" textLength="12" lengthAdjust="spacingAndGlyphs">C</text></g>
<g id="gr-e" transform="translate(716,575)"><rect class="n nl2" width="54" height="42" rx="8"/><line class="cd" x1="21" y1="21" x2="33" y2="21"/><use href="#d" x="8" y="4"/><use href="#s" x="33" y="4"/><text class="k" x="39.5" y="32" textLength="12" lengthAdjust="spacingAndGlyphs">E</text></g>
<g id="gr-gh" transform="translate(781,575)"><rect class="n nl2" width="54" height="42" rx="8"/><line class="c" x1="21" y1="21" x2="33" y2="21"/><use href="#s" x="8" y="4"/><use href="#s" x="33" y="4"/><text class="k" x="14.5" y="32" textLength="12" lengthAdjust="spacingAndGlyphs">G</text><text class="k" x="39.5" y="32" textLength="12" lengthAdjust="spacingAndGlyphs">H</text></g>
<g id="gr-dl1" transform="translate(844,575)"><rect class="n nl2 dn" width="54" height="42" rx="8"/><line class="cd" x1="21" y1="21" x2="33" y2="21"/><use href="#d" x="8" y="4"/><use href="#s" x="33" y="4"/></g>
<g id="gr-dl2" transform="translate(910,575)"><rect class="n nl2 dn" width="54" height="42" rx="8"/><line class="cd" x1="21" y1="21" x2="33" y2="21"/><use href="#d" x="8" y="4"/><use href="#s" x="33" y="4"/></g>
<g id="gr-dl3" transform="translate(975,575)"><rect class="n nl2 dn" width="54" height="42" rx="8"/><line class="cd" x1="21" y1="21" x2="33" y2="21"/><use href="#d" x="8" y="4"/><use href="#s" x="33" y="4"/></g>

<g id="h-root" transform="translate(780,648)"><rect class="n ni2" width="55" height="43" rx="8"/><use href="#s" x="8" y="4"/><use href="#d" x="34" y="4"/><text class="k" x="14.5" y="32" textLength="12" lengthAdjust="spacingAndGlyphs">D</text><text class="k" x="40.5" y="32" textLength="12" lengthAdjust="spacingAndGlyphs">G</text></g>
<g id="h-b" transform="translate(686,706)"><rect class="n ni" width="54" height="42" rx="8"/><use href="#s" x="20.5" y="4"/><text class="k" x="27" y="32" textLength="12" lengthAdjust="spacingAndGlyphs">B</text></g>
<g id="h-ef" transform="translate(780,706)"><rect class="n nl2" width="54" height="42" rx="8"/><line class="c" x1="21" y1="21" x2="33" y2="21"/><use href="#s" x="8" y="4"/><use href="#s" x="33" y="4"/><text class="k" x="14.5" y="32" textLength="12" lengthAdjust="spacingAndGlyphs">E</text><text class="k" x="39.5" y="32" textLength="12" lengthAdjust="spacingAndGlyphs">F</text></g>
<g id="h-dn" transform="translate(910,706)"><rect class="n ni dn" width="54" height="42" rx="8"/><use href="#s" x="20.5" y="4"/></g>
<g id="h-a" transform="translate(652,763)"><rect class="n nl2" width="54" height="42" rx="8"/><line class="cd" x1="21" y1="21" x2="33" y2="21"/><use href="#d" x="8" y="4"/><use href="#s" x="33" y="4"/><text class="k" x="39.5" y="32" textLength="12" lengthAdjust="spacingAndGlyphs">A</text></g>
<g id="h-c" transform="translate(716,763)"><rect class="n nl2" width="54" height="42" rx="8"/><line class="cd" x1="21" y1="21" x2="33" y2="21"/><use href="#d" x="8" y="4"/><use href="#s" x="33" y="4"/><text class="k" x="39.5" y="32" textLength="12" lengthAdjust="spacingAndGlyphs">C</text></g>
<g id="h-dl1" transform="translate(844,763)"><rect class="n nl2 dn" width="54" height="42" rx="8"/><line class="cd" x1="21" y1="21" x2="33" y2="21"/><use href="#d" x="8" y="4"/><use href="#s" x="33" y="4"/></g>
<g id="h-dl2" transform="translate(910,763)"><rect class="n nl2 dn" width="54" height="42" rx="8"/><line class="cd" x1="21" y1="21" x2="33" y2="21"/><use href="#d" x="8" y="4"/><use href="#s" x="33" y="4"/></g>

<g id="hr-root" transform="translate(780,818)"><rect class="n ni dn" width="55" height="42" rx="8"/><use href="#s" x="21" y="4"/><text class="k" x="27.5" y="32" textLength="12" lengthAdjust="spacingAndGlyphs">G</text></g>
<g id="hr-bd" transform="translate(718,877)"><rect class="n ni2" width="54" height="42" rx="8"/><use href="#s" x="8" y="4"/><use href="#s" x="33" y="4"/><text class="k" x="14.5" y="32" textLength="12" lengthAdjust="spacingAndGlyphs">B</text><text class="k" x="39.5" y="32" textLength="12" lengthAdjust="spacingAndGlyphs">D</text></g>
<g id="hr-dn" transform="translate(910,877)"><rect class="n ni dn" width="54" height="42" rx="8"/><use href="#s" x="20.5" y="4"/></g>
<g id="hr-a" transform="translate(652,933)"><rect class="n nl2" width="54" height="42" rx="8"/><line class="cd" x1="21" y1="21" x2="33" y2="21"/><use href="#d" x="8" y="4"/><use href="#s" x="33" y="4"/><text class="k" x="39.5" y="32" textLength="12" lengthAdjust="spacingAndGlyphs">A</text></g>
<g id="hr-c" transform="translate(716,933)"><rect class="n nl2" width="54" height="42" rx="8"/><line class="cd" x1="21" y1="21" x2="33" y2="21"/><use href="#d" x="8" y="4"/><use href="#s" x="33" y="4"/><text class="k" x="39.5" y="32" textLength="12" lengthAdjust="spacingAndGlyphs">C</text></g>
<g id="hr-ef" transform="translate(781,933)"><rect class="n nl2" width="54" height="42" rx="8"/><line class="cd" x1="21" y1="21" x2="33" y2="21"/><use href="#d" x="8" y="4"/><use href="#s" x="33" y="4"/><text class="k" x="14.5" y="32" textLength="12" lengthAdjust="spacingAndGlyphs">E</text><text class="k" x="39.5" y="32" textLength="12" lengthAdjust="spacingAndGlyphs">F</text></g>
<g id="hr-dl1" transform="translate(844,933)"><rect class="n nl2 dn" width="54" height="42" rx="8"/><line class="cd" x1="21" y1="21" x2="33" y2="21"/><use href="#d" x="8" y="4"/><use href="#s" x="33" y="4"/></g>
<g id="hr-dl2" transform="translate(910,933)"><rect class="n nl2 dn" width="54" height="42" rx="8"/><line class="cd" x1="21" y1="21" x2="33" y2="21"/><use href="#d" x="8" y="4"/><use href="#s" x="33" y="4"/></g>
</svg>
